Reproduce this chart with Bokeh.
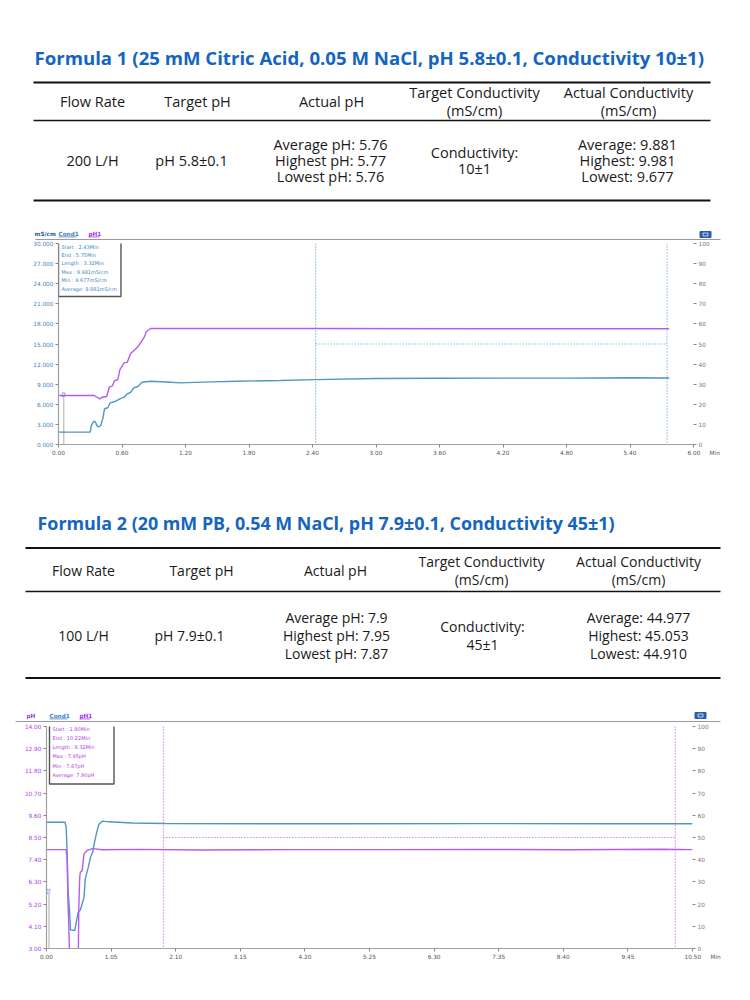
from bokeh.plotting import figure
from bokeh.layouts import column
from bokeh.models import Range1d, LinearAxis, FixedTicker, NumeralTickFormatter, Span, Label
from bokeh.core.properties import value
from bokeh.embed import file_html
from bokeh.resources import INLINE

# ---------------- data ----------------
title1 = "Formula 1 (25 mM Citric Acid, 0.05 M NaCl, pH 5.8\u00b10.1, Conductivity 10\u00b11)"
title2 = "Formula 2 (20 mM PB, 0.54 M NaCl, pH 7.9\u00b10.1, Conductivity 45\u00b11)"
col_headers = [["Flow Rate"], ["Target pH"], ["Actual pH"],
               ["Target Conductivity", "(mS/cm)"], ["Actual Conductivity", "(mS/cm)"]]
row1 = [["200 L/H"], ["pH 5.8\u00b10.1"],
        ["Average pH: 5.76", "Highest pH: 5.77", "Lowest pH: 5.76"],
        ["Conductivity:", "10\u00b11"],
        ["Average: 9.881", "Highest: 9.981", "Lowest: 9.677"]]
row2 = [["100 L/H"], ["pH 7.9\u00b10.1"],
        ["Average pH: 7.9", "Highest pH: 7.95", "Lowest pH: 7.87"],
        ["Conductivity:", "45\u00b11"],
        ["Average: 44.977", "Highest: 45.053", "Lowest: 44.910"]]

# chart 1 (left axis mS/cm 0-30, pH on 0-10, right 0-100)
c1_header = ["mS/cm", "Cond1", "pH1"]
c1_time_cond = [0, 0.30, 0.31, 0.335, 0.35, 0.365, 0.38, 0.40, 0.42, 0.435, 0.466, 0.485,
                0.54, 0.58, 0.62, 0.65, 0.68, 0.71, 0.75, 0.79, 0.87, 1.06, 1.15, 1.44,
                1.69, 2.10, 2.43, 3.00, 3.60, 4.20, 4.80, 5.40, 5.77]
c1_cond = [1.84, 1.84, 2.84, 3.48, 3.33, 2.73, 2.64, 2.84, 3.98, 5.33, 5.48, 6.17,
           6.46, 6.82, 7.06, 7.56, 7.76, 8.46, 8.66, 9.30, 9.45, 9.30, 9.20, 9.35,
           9.45, 9.55, 9.68, 9.85, 9.88, 9.90, 9.91, 9.96, 9.93]
c1_time_ph = [0, 0.335, 0.365, 0.39, 0.41, 0.455, 0.48, 0.51, 0.53, 0.56, 0.58, 0.62,
              0.65, 0.68, 0.73, 0.76, 0.81, 0.83, 0.87, 2.43, 4.0, 5.77]
c1_ph = [2.44, 2.44, 2.35, 2.27, 2.35, 2.39, 2.85, 2.92, 3.18, 3.22, 3.72, 4.06,
         4.09, 4.51, 4.76, 4.93, 5.34, 5.62, 5.77, 5.77, 5.76, 5.76]
c1_stats = ["Start    : 2.43Min", "End      : 5.75Min", "Length : 3.32Min",
            "Max     : 9.981mS/cm", "Min      : 9.677mS/cm", "Average: 9.881mS/cm"]
c1_cursors = [2.43, 5.75]
c1_marker = [0.05, 7.0]
c1_x_ticks = [0.0, 0.6, 1.2, 1.8, 2.4, 3.0, 3.6, 4.2, 4.8, 5.4, 6.0]
c1_y_ticks = [0, 3, 6, 9, 12, 15, 18, 21, 24, 27, 30]

# chart 2 (left axis pH 3-14, conductivity on 0-80, right 0-100)
c2_header = ["pH", "Cond1", "pH1"]
c2_time_cond = [0, 0.30, 0.32, 0.336, 0.35, 0.374, 0.39, 0.46, 0.49, 0.515, 0.55, 0.58,
                0.61, 0.63, 0.68, 0.715, 0.75, 0.775, 0.81, 0.85, 0.905, 1.01, 1.39,
                1.93, 3.56, 5.0, 7.0, 9.0, 10.5]
c2_cond = [45.5, 45.5, 43.7, 34.1, 20.9, 13.9, 6.7, 6.5, 10.1, 13.1, 13.9, 16.1,
           18.5, 25.1, 29.3, 32.9, 34.7, 37.7, 41.3, 44.7, 45.9, 45.65, 45.2,
           45.05, 44.95, 44.98, 45.0, 44.95, 44.93]
c2_time_ph = [0, 0.32, 0.336, 0.35, 0.36, 0.38, 0.515, 0.525, 0.54, 0.55, 0.58, 0.61,
              0.66, 0.75, 0.905, 1.5, 2.5, 4.0, 5.5, 7.0, 8.5, 10.0, 10.5]
c2_ph = [7.9, 7.9, 7.36, 5.21, 4.39, 2.0, 2.0, 5.02, 6.53, 6.78, 6.87, 7.69,
         7.86, 7.95, 7.89, 7.91, 7.88, 7.9, 7.9, 7.91, 7.89, 7.92, 7.9]
c2_stats = ["Start    : 1.90Min", "End      : 10.22Min", "Length : 8.32Min",
            "Max     : 7.95pH", "Min      : 7.87pH", "Average: 7.90pH"]
c2_cursors = [1.90, 10.22]
c2_marker = [0.04, 5.7]
c2_x_ticks = [0.0, 1.05, 2.1, 3.15, 4.2, 5.25, 6.3, 7.35, 8.4, 9.45, 10.5]
c2_y_ticks = [3.0, 4.1, 5.2, 6.3, 7.4, 8.5, 9.6, 10.7, 11.8, 12.9, 14.0]
right_ticks = [0, 10, 20, 30, 40, 50, 60, 70, 80, 90, 100]
avg_band = 50
time_unit = "Min"

# ---------------- style ----------------
W = 734
TITLE_BLUE = "#1565C0"
COND = "#4F98C0"
PH = "#B45CF0"
COND_TXT = "#3C7FC0"
PH_TXT = "#A030E8"
TABLE_FONT = "Open Sans"
AX_FONT = "DejaVu Sans"
NB = "\u00a0"


def no_align(p):
    try:
        p.frame_align = False
    except Exception:
        pass


def text_fig(h):
    p = figure(width=W, height=h, x_range=Range1d(0, W), y_range=Range1d(h, 0),
               x_axis_type=None, y_axis_type=None, output_backend="svg",
               toolbar_location=None, min_border=0, outline_line_color=None)
    p.grid.visible = False
    no_align(p)
    return p


def draw_table(p, top, title, title_x, title_y, title_size, hdr_x, hdr_c, hdr_sp,
               dat_x, dat_c, dat_sp3, dat_sp2, row, lines, lx0, lx1, fsize):
    p.text(x=[title_x], y=[title_y - top], text=[title], text_font=value(TABLE_FONT),
           text_font_style="bold", text_font_size=value(title_size), text_color=TITLE_BLUE,
           text_align="left", text_baseline="middle")
    xs, ys, ts = [], [], []
    for cx, cell in zip(hdr_x, col_headers):
        n = len(cell)
        for i, t in enumerate(cell):
            xs.append(cx)
            ys.append(hdr_c - top + (i - (n - 1) / 2) * hdr_sp)
            ts.append(t)
    for cx, cell in zip(dat_x, row):
        n = len(cell)
        sp = dat_sp3 if n == 3 else dat_sp2
        for i, t in enumerate(cell):
            xs.append(cx)
            ys.append(dat_c - top + (i - (n - 1) / 2) * sp)
            ts.append(t)
    p.text(x=xs, y=ys, text=ts, text_font=value(TABLE_FONT), text_font_size=value(fsize),
           text_color="#1a1a1a", text_align="center", text_baseline="middle")
    for (ly, lw) in lines:
        p.segment(x0=[lx0], y0=[ly - top], x1=[lx1], y1=[ly - top],
                  line_color="#111111", line_width=lw)


def chart_header(p, top, labels, label_x, label_w, colors, y, line_y, lx0, lx1,
                 icon_x, icon_y):
    p.text(x=label_x, y=[y - top] * 3, text=labels,
           text_font=value(AX_FONT), text_font_style="bold", text_font_size=value("5.7px"),
           text_color=colors, text_align="left", text_baseline="middle")
    p.segment(x0=[label_x[1], label_x[2]], y0=[y - top + 3.4] * 2,
              x1=[label_x[1] + label_w[1], label_x[2] + label_w[2]], y1=[y - top + 3.4] * 2,
              line_color=[colors[1], colors[2]], line_width=0.8)
    p.segment(x0=[lx0], y0=[line_y - top], x1=[lx1], y1=[line_y - top],
              line_color="#9a9a9a", line_width=1.6)
    p.rect(x=[icon_x], y=[icon_y - top], width=11, height=6, fill_color="#2A5CA8",
           line_color="#2A5CA8")
    p.rect(x=[icon_x], y=[icon_y - top], width=5, height=3, fill_color=None,
           line_color="white", line_width=0.7)


def style_axis(ax, color, line=True):
    ax.major_label_text_font = AX_FONT
    ax.major_label_text_font_size = "5.8px"
    ax.major_label_text_color = color
    ax.axis_line_color = "#a0a0a0" if line else None
    ax.axis_line_width = 1.2
    ax.major_tick_line_color = "#888888"
    ax.minor_tick_line_color = None
    ax.major_tick_in = 0
    ax.major_tick_out = 3
    ax.major_label_standoff = 2


def make_chart(height, x_max, y_rng, extra_name, extra_rng, borders, x_ticks, y_ticks,
               y_fmt, y_color, t_cond, cond, t_ph, ph, cond_on_extra, cursors, cur_color,
               stats, stats_color, stats_pad, stats_lh, stats_off, marker, marker_color):
    bl, br, bt, bb = borders
    p = figure(width=W, height=height, x_range=Range1d(0, x_max), y_range=Range1d(*y_rng),
               output_backend="svg", toolbar_location=None,
               min_border_left=bl, min_border_right=br, min_border_top=bt,
               min_border_bottom=bb, outline_line_color=None)
    no_align(p)
    p.grid.visible = False
    p.extra_y_ranges = {extra_name: Range1d(*extra_rng), "right": Range1d(0, 100)}
    p.xaxis.ticker = FixedTicker(ticks=x_ticks)
    p.xaxis.formatter = NumeralTickFormatter(format="0.00")
    last = x_ticks[-1]
    p.xaxis.major_label_overrides = {
        last: NB * 11 + "%.2f" % last + NB * 5 + time_unit}
    style_axis(p.xaxis[0], "#555555")
    p.yaxis.ticker = FixedTicker(ticks=y_ticks)
    p.yaxis.formatter = NumeralTickFormatter(format=y_fmt)
    style_axis(p.yaxis[0], y_color)
    ax_r = LinearAxis(y_range_name="right", ticker=FixedTicker(ticks=right_ticks),
                      formatter=NumeralTickFormatter(format="0"))
    style_axis(ax_r, "#777777", line=False)
    p.add_layout(ax_r, "right")

    if cond_on_extra:
        p.line(t_cond, cond, y_range_name=extra_name, line_color=COND, line_width=1.4)
        p.line(t_ph, ph, line_color=PH, line_width=1.4)
    else:
        p.line(t_cond, cond, line_color=COND, line_width=1.4)
        p.line(t_ph, ph, y_range_name=extra_name, line_color=PH, line_width=1.4)

    for c in cursors:
        p.add_layout(Span(location=c, dimension="height", line_color=cur_color,
                          line_dash="1 2", line_width=1.1))
    p.segment(x0=[cursors[0]], y0=[avg_band], x1=[cursors[1]], y1=[avg_band],
              y_range_name="right", line_color=cur_color, line_dash="1 2", line_width=1.1)
    p.segment(x0=[marker[0]], y0=[y_rng[0]], x1=[marker[0]], y1=[marker[1]],
              line_color="#333333", line_dash="1 1", line_width=0.8)
    p.add_layout(Label(x=marker[0], y=marker[1], text="S2", angle=1.5708,
                       text_font=AX_FONT, text_font_size="4.5px",
                       text_color=marker_color, text_align="left", text_baseline="middle"))

    p.add_layout(Label(x=0, y=y_rng[1], x_offset=stats_off[0], y_offset=stats_off[1],
                       text="\n".join(stats), text_font=AX_FONT,
                       text_font_size="5px", text_color=stats_color,
                       text_align="left", text_baseline="top", text_line_height=stats_lh,
                       border_line_color="#555555", border_line_width=1.4,
                       background_fill_color="white", padding=stats_pad))
    return p


# ---------- block A: title 1, table 1, chart-1 header (page y 0-240) ----------
topA = 0
pa = text_fig(240)
draw_table(pa, topA, title1, 34, 57, "18.6px",
           [92, 197, 331, 474, 628], 101, 17.5,
           [92, 191, 330, 474, 627], 160, 16.3, 16.5, row1,
           [(82, 2.2), (120, 1.6), (200, 2.2)], 33, 710, "14.5px")
chart_header(pa, topA, c1_header, [34, 58, 88], [19, 18, 11],
             ["#2B5797", COND_TXT, PH_TXT], 233, 239.2, 35, 720, 705, 234)

# ---------- block B: chart 1 (page y 240-475) ----------
pb = make_chart(235, 6.0, (0, 30), "ph", (0, 10), (58, W - 693, 3, 31),
                c1_x_ticks, c1_y_ticks, "0.000", "#4A86C0",
                c1_time_cond, c1_cond, c1_time_ph, c1_ph, False,
                c1_cursors, "#4A9AD0", c1_stats, "#3C86C8", (3, 4, 3, 5), 1.4, (0, 3),
                c1_marker, "#3050D0")

# ---------- block C: title 2, table 2, chart-2 header (page y 475-722) ----------
topC = 475
pc = text_fig(247)
draw_table(pc, topC, title2, 37, 522, "17.9px",
           [83, 201, 335, 481, 638], 570, 18.5,
           [83, 189, 336, 482, 638], 635, 18.3, 18, row2,
           [(547.5, 2.2), (591, 1.6), (677.5, 2.2)], 25, 720, "14px")
chart_header(pc, topC, c2_header, [26, 49, 79], [8, 18, 11],
             [PH_TXT, COND_TXT, PH_TXT], 715, 721.2, 15, 720, 700, 715)

# ---------- block D: chart 2 (page y 722-980) ----------
pd_ = make_chart(258, 10.5, (3, 14), "cond", (0, 80), (46, W - 692, 4, 32),
                 c2_x_ticks, c2_y_ticks, "0.00", "#B040E8",
                 c2_time_cond, c2_cond, c2_time_ph, c2_ph, True,
                 c2_cursors, "#C04EF0", c2_stats, "#B040E0", (3, 16, 3, 6), 1.55, (3, 4),
                 c2_marker, "#5050E0")

layout = column(pa, pb, pc, pd_, spacing=0)
open("out.html", "w").write(file_html(layout, INLINE))
